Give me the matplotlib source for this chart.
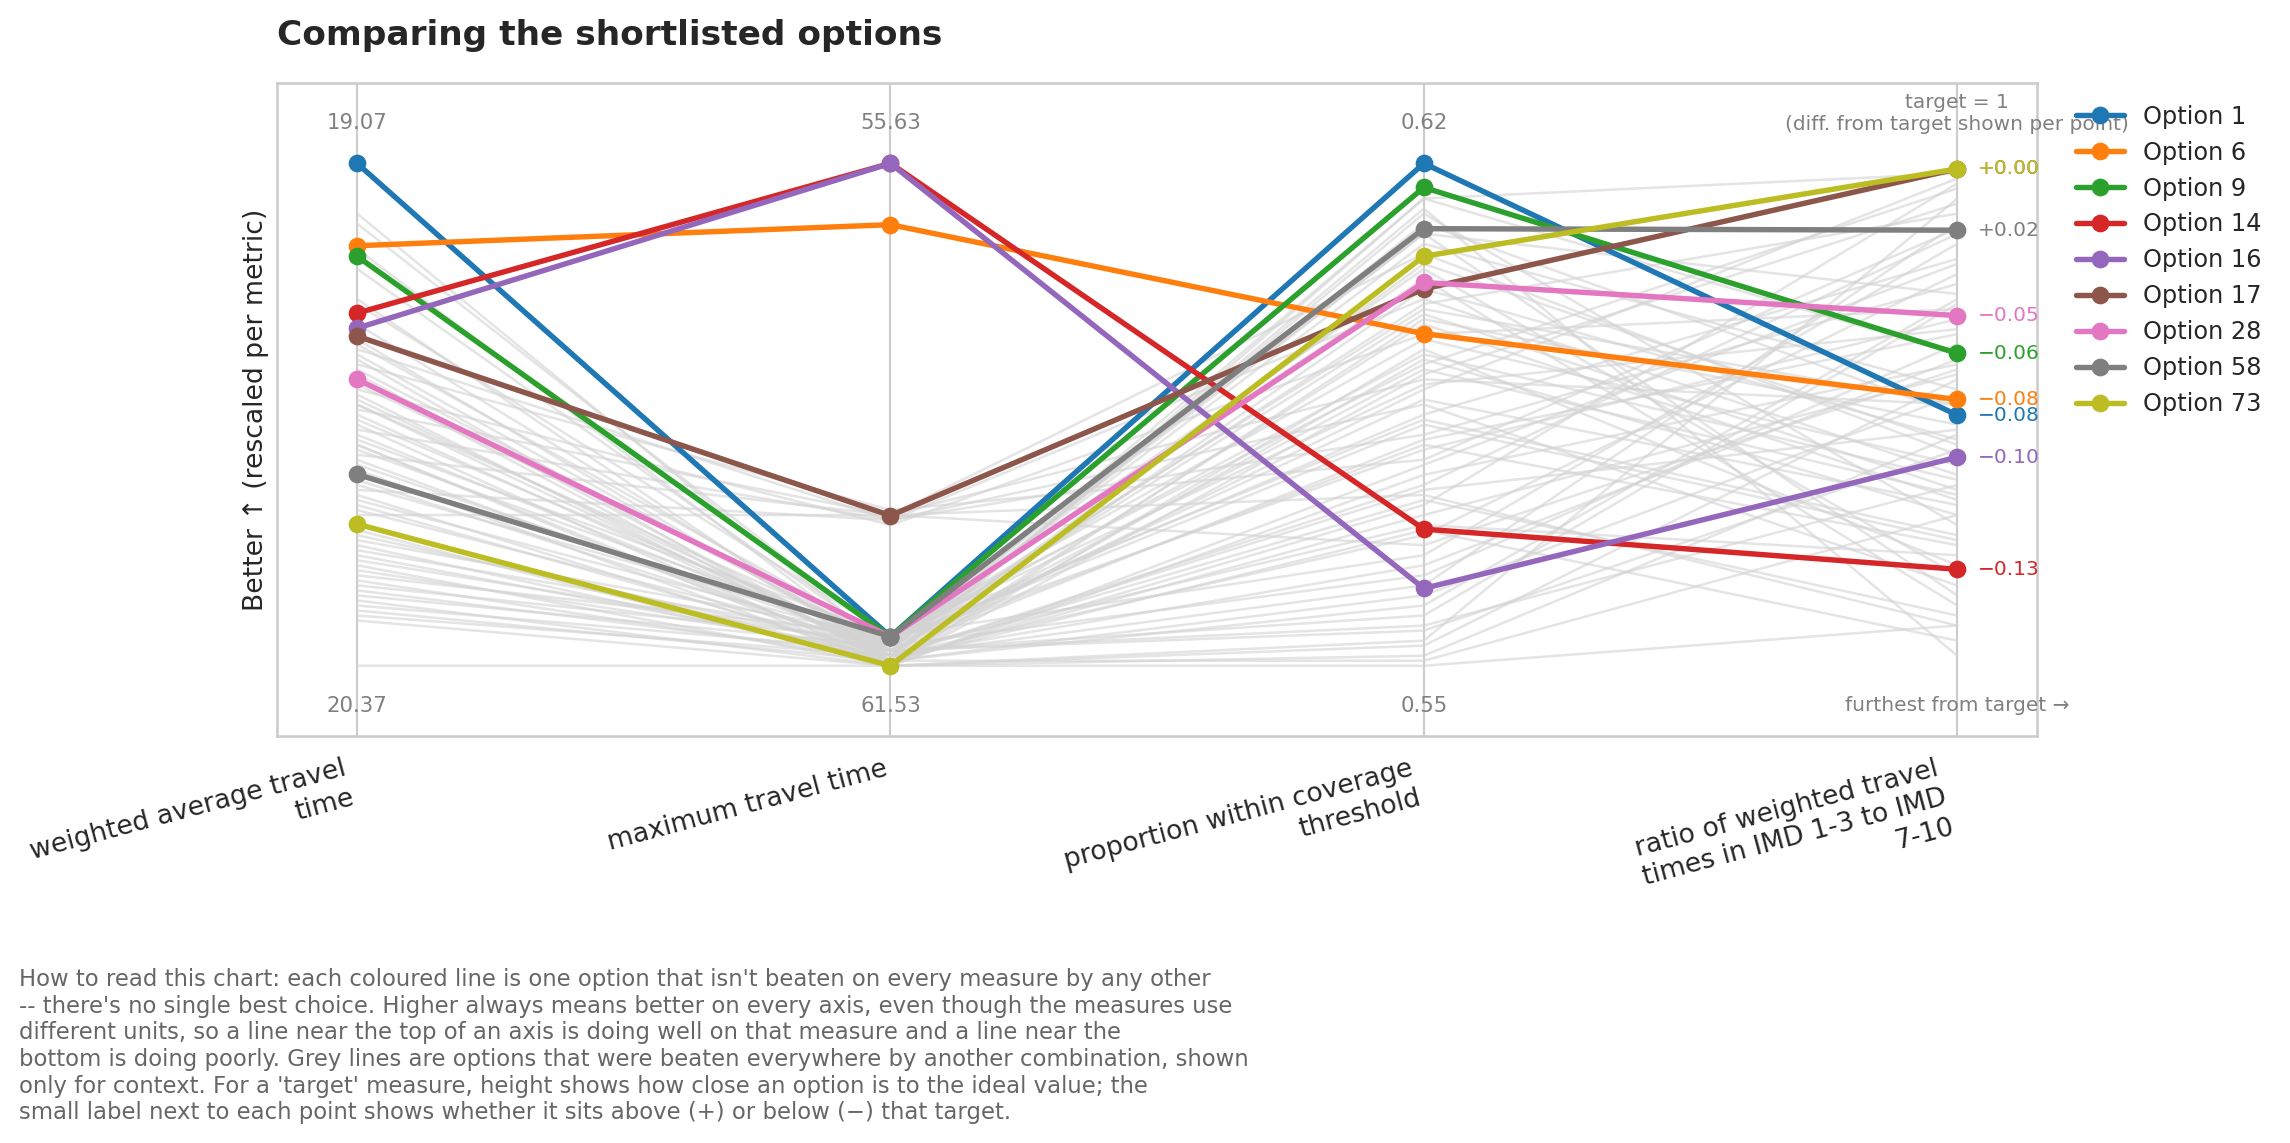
import matplotlib
matplotlib.use("Agg")
import matplotlib.pyplot as plt
import seaborn as sns

sns.set_theme(style="whitegrid", context="notebook")
plt.rcParams['font.family'] = ['DejaVu Sans']

metrics = ["weighted average travel\ntime", "maximum travel time",
           "proportion within coverage\nthreshold",
           "ratio of weighted travel\ntimes in IMD 1-3 to IMD\n7-10"]
best_labels = ["19.07", "55.63", "0.62", None]
worst_labels = ["20.37", "61.53", "0.55", None]

# shortlisted (non-dominated) options, rescaled 0..1 per metric (1 = best)
options = ["Option 1", "Option 6", "Option 9", "Option 14", "Option 16",
           "Option 17", "Option 28", "Option 58", "Option 73"]
wat = [1.00, 0.836, 0.815, 0.702, 0.672, 0.656, 0.570, 0.381, 0.282]
mtt = [0.058, 0.878, 0.058, 1.00, 1.00, 0.299, 0.058, 0.058, 0.00]
cov = [1.00, 0.661, 0.952, 0.272, 0.154, 0.750, 0.763, 0.870, 0.815]
ratio = [0.499, 0.530, 0.622, 0.192, 0.415, 0.989, 0.697, 0.867, 0.989]
ratio_diff = [-0.08, -0.08, -0.06, -0.13, -0.10, 0.00, -0.05, 0.02, 0.00]
colors = ["#1f77b4", "#ff7f0e", "#2ca02c", "#d62728", "#9467bd",
          "#8c564b", "#e377c2", "#7f7f7f", "#bcbd22"]

# dominated options (grey context lines)
grey_wat = [0.90, 0.88, 0.83, 0.79, 0.73, 0.72, 0.66, 0.65, 0.64, 0.63, 0.62, 0.61,
            0.60, 0.59, 0.58, 0.56, 0.55, 0.54, 0.53, 0.52, 0.51, 0.50, 0.49, 0.48,
            0.47, 0.46, 0.45, 0.44, 0.43, 0.42, 0.41, 0.40, 0.39, 0.37, 0.36, 0.35,
            0.34, 0.33, 0.32, 0.31, 0.30, 0.27, 0.26, 0.25, 0.24, 0.23, 0.22, 0.21,
            0.20, 0.19, 0.18, 0.17, 0.16, 0.15, 0.14, 0.13, 0.12, 0.11, 0.10, 0.09,
            0.00, 0.57, 0.68, 0.52, 0.44, 0.28]
grey_mtt = [0.03, 0.05, 0.02, 0.04, 0.01, 0.06, 0.30, 0.02, 0.05, 0.29, 0.03, 0.00,
            0.31, 0.04, 0.02, 0.06, 0.28, 0.01, 0.03, 0.05, 0.30, 0.02, 0.04, 0.00,
            0.29, 0.03, 0.06, 0.01, 0.05, 0.30, 0.02, 0.04, 0.00, 0.03, 0.06, 0.29,
            0.01, 0.05, 0.02, 0.04, 0.30, 0.00, 0.03, 0.06, 0.01, 0.05, 0.02, 0.04,
            0.00, 0.03, 0.06, 0.01, 0.05, 0.02, 0.04, 0.00, 0.03, 0.01, 0.02, 0.00,
            0.00, 0.01, 0.03, 0.02, 0.00, 0.01]
grey_cov = [0.93, 0.86, 0.80, 0.72, 0.68, 0.60, 0.57, 0.90, 0.50, 0.73, 0.45, 0.63,
            0.41, 0.84, 0.35, 0.77, 0.66, 0.30, 0.55, 0.48, 0.82, 0.26, 0.70, 0.38,
            0.52, 0.88, 0.22, 0.61, 0.43, 0.34, 0.75, 0.18, 0.58, 0.28, 0.65, 0.46,
            0.14, 0.79, 0.36, 0.53, 0.24, 0.69, 0.10, 0.49, 0.32, 0.62, 0.20, 0.86,
            0.40, 0.07, 0.56, 0.27, 0.71, 0.16, 0.44, 0.04, 0.59, 0.12, 0.33, 0.02,
            0.00, 0.93, 0.08, 0.91, 0.05, 0.01]
grey_ratio = [0.62, 0.74, 0.44, 0.90, 0.33, 0.95, 0.52, 0.28, 0.81, 0.38, 0.66, 0.20,
              0.87, 0.55, 0.47, 0.12, 0.71, 0.58, 0.97, 0.25, 0.42, 0.78, 0.35, 0.60,
              0.16, 0.50, 0.84, 0.30, 0.69, 0.08, 0.45, 0.64, 0.92, 0.22, 0.40, 0.76,
              0.54, 0.18, 0.86, 0.32, 0.59, 0.48, 0.72, 0.26, 0.96, 0.37, 0.61, 0.14,
              0.80, 0.43, 0.67, 0.05, 0.52, 0.88, 0.24, 0.57, 0.34, 0.73, 0.10, 0.46,
              0.08, 0.98, 0.36, 0.02, 0.93, 0.30]

caption = ("How to read this chart: each coloured line is one option that isn't beaten on every measure by any other\n"
           "-- there's no single best choice. Higher always means better on every axis, even though the measures use\n"
           "different units, so a line near the top of an axis is doing well on that measure and a line near the\n"
           "bottom is doing poorly. Grey lines are options that were beaten everywhere by another combination, shown\n"
           "only for context. For a 'target' measure, height shows how close an option is to the ideal value; the\n"
           "small label next to each point shows whether it sits above (+) or below (\u2212) that target.")

fig = plt.figure(figsize=(2290 / 150, 1143 / 150), dpi=150)
ax = fig.add_axes([0.121, 0.356, 0.7686, 0.5714])
xs = range(len(metrics))

for g in zip(grey_wat, grey_mtt, grey_cov, grey_ratio):
    ax.plot(xs, g, color="lightgrey", lw=1.2, alpha=0.6, zorder=1)

for i, name in enumerate(options):
    vals = [wat[i], mtt[i], cov[i], ratio[i]]
    ax.plot(xs, vals, color=colors[i], lw=2.6, marker="o", ms=7.5,
            label=name, zorder=3)
    d = ratio_diff[i]
    txt = ("+" if d >= 0 else "\u2212") + f"{abs(d):.2f}"
    ax.annotate(txt, (3, ratio[i]), xytext=(10, 0), textcoords="offset points",
                va="center", ha="left", fontsize=9.7, color=colors[i])

for i in range(3):
    ax.text(i, 1.08, best_labels[i], ha="center", va="center", fontsize=10.2, color="grey")
    ax.text(i, -0.08, worst_labels[i], ha="center", va="center", fontsize=10.2, color="grey")
ax.text(3, 1.10, "target = 1\n(diff. from target shown per point)", ha="center",
        va="center", fontsize=9.7, color="grey")
ax.text(3, -0.08, "furthest from target \u2192", ha="center", va="center",
        fontsize=9.7, color="grey")

ax.set_xlim(-0.15, 3.15)
ax.set_ylim(-0.14, 1.16)
ax.set_xticks(list(xs))
ax.set_xticklabels(metrics, rotation=15, ha="right", fontsize=12.8)
ax.set_yticks([])
ax.set_ylabel("Better \u2191 (rescaled per metric)", fontsize=12.8)
ax.set_title("Comparing the shortlisted options", loc="left", fontsize=16.5,
             fontweight="bold", pad=18)
ax.legend(loc="upper left", bbox_to_anchor=(1.01, 1.0), frameon=False, fontsize=11.5)

fig.text(0.0083, 0.153, caption, ha="left", va="top", fontsize=10.9, color="#666666")

fig.savefig("out.png", dpi=150)
